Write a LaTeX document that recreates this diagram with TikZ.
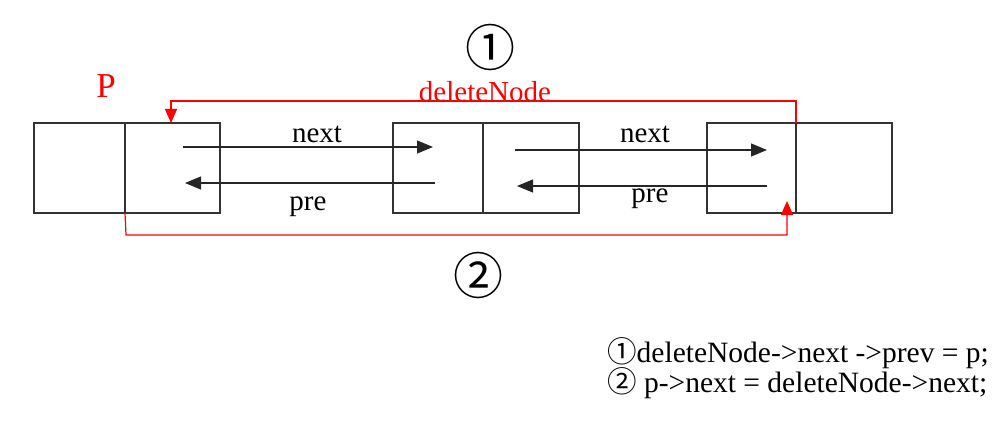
\documentclass[tikz,border=0pt]{standalone}
\usepackage{fontspec}
\setmainfont{Liberation Serif}
\newfontfamily\cjk{Noto Sans CJK SC}
\usetikzlibrary{arrows.meta}
\begin{document}
\begin{tikzpicture}[x=1pt,y=-1pt,
  cell/.style={draw=black!80,line width=1.2pt,minimum height=90pt,inner sep=0pt,outer sep=0pt,anchor=north west},
  wcell/.style={cell,minimum width=91pt},
  ncell/.style={cell,minimum width=95pt},
  ptr/.style={draw=black!85,line width=1.2pt,-{Triangle[length=16pt,width=13pt]}},
  redptr/.style={draw=red,line width=1.2pt,-{Triangle[length=14pt,width=12pt]}},
  lbl/.style={font=\fontsize{29}{30}\selectfont,inner sep=0pt,anchor=base},
  redlbl/.style={lbl,text=red},
  circnum/.style={font=\cjk\fontsize{50}{50}\selectfont,inner sep=0pt},
  code/.style={font=\fontsize{29.5}{30}\selectfont,inner sep=0pt,anchor=base west}
]
\useasboundingbox (0,0) rectangle (1000,422);
% list nodes
\node[wcell] (b1a) at (34,123) {};
\node[ncell] (b1b) at (125,123) {};
\node[wcell,minimum width=90pt] (b2a) at (393,123) {};
\node[ncell,minimum width=96pt] (b2b) at (483,123) {};
\node[wcell,minimum width=89pt] (b3a) at (707,123) {};
\node[ncell,minimum width=96pt] (b3b) at (796,123) {};
% pointer end points
\coordinate (n1s) at (183,147);
\coordinate (n1e) at (433,147);
\coordinate (p1s) at (435,183);
\coordinate (p1e) at (185,183);
\coordinate (n2s) at (515,150);
\coordinate (n2e) at (767,150);
\coordinate (p2s) at (767,186);
\coordinate (p2e) at (517,186);
\coordinate (t1) at (171,123);
\coordinate (t2) at (787,201);
\draw[ptr] (n1s) -- (n1e);
\draw[ptr] (p1s) -- (p1e);
\draw[ptr] (n2s) -- (n2e);
\draw[ptr] (p2s) -- (p2e);
% labels
\node[lbl] (ln1) at (317,143) {next};
\node[lbl] (lp1) at (308,210) {pre};
\node[lbl] (ln2) at (645,143) {next};
\node[lbl] (lp2) at (650,202) {pre};
% red links
\draw[redptr] (b3a.north east) -- (796,101) -| (t1);
\draw[redptr] (b1b.south west) -- (126,235) -| (t2);
\node[redlbl] (dn) at (485,102) {deleteNode};
\node[redlbl,font=\fontsize{35}{36}\selectfont] (pp) at (106,98) {P};
\node[circnum] (c1) at (490,48) {①};
\node[circnum] (c2) at (478,275) {②};
% code
\node[code] (code1) at (607,362) {{\cjk ①}deleteNode->next ->prev = p;};
\node[code] (code2) at (607,392) {{\cjk ②} p->next = deleteNode->next;};
\end{tikzpicture}
\end{document}
